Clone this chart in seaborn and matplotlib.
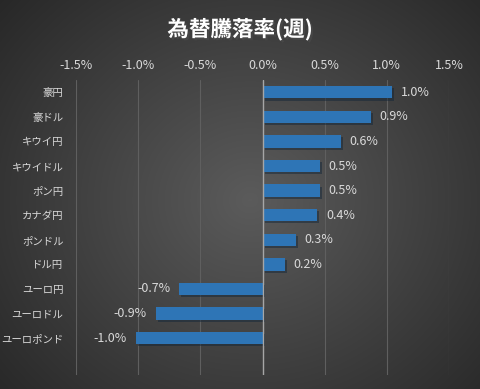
import numpy as np
import pandas as pd
import matplotlib
matplotlib.use('Agg')
import matplotlib.pyplot as plt
import matplotlib.patheffects as pe
from matplotlib.ticker import FuncFormatter
import seaborn as sns

currencies = ['豪円', '豪ドル', 'キウイ円', 'キウイドル', 'ポン円', 'カナダ円',
              'ポンドル', 'ドル円', 'ユーロ円', 'ユーロドル', 'ユーロポンド']
change = [1.04, 0.87, 0.63, 0.46, 0.46, 0.44, 0.27, 0.18, -0.67, -0.86, -1.02]
x_ticks = [-1.5, -1.0, -0.5, 0.0, 0.5, 1.0, 1.5]

df = pd.DataFrame({'通貨': currencies, '騰落率': change})

sns.set_theme(style="dark")
plt.rcParams['font.family'] = ['Noto Sans CJK JP', 'DejaVu Sans']

fig = plt.figure(figsize=(4.8, 3.89), dpi=100)

# radial gradient background
bg = fig.add_axes([0, 0, 1, 1])
yy, xx = np.mgrid[0:389, 0:480]
r = np.sqrt(((xx - 250) / 330.0) ** 2 + ((yy - 200) / 300.0) ** 2)
shade = np.clip(0.36 - 0.2 * r, 0.14, 0.36)
bg.imshow(shade, cmap='gray', vmin=0, vmax=1, aspect='auto', extent=[0, 1, 0, 1])
bg.axis('off')

ax = fig.add_axes([76 / 480, 1 - 375 / 389, (449 - 76) / 480, (375 - 80) / 389])
ax.patch.set_alpha(0)
sns.barplot(data=df, x='騰落率', y='通貨', orient='h', color='#2E75B6',
            width=0.5, saturation=1, linewidth=0, edgecolor='none', ax=ax)
for p in ax.patches:
    p.set_path_effects([pe.SimplePatchShadow(offset=(1.5, -1.5), alpha=0.45), pe.Normal()])

ax.set_xlim(-1.5, 1.5)
ax.set_ylim(11.5, -0.5)
ax.set_xticks(x_ticks)
ax.xaxis.set_major_formatter(FuncFormatter(lambda v, _: f'{v:.1f}%'))
ax.xaxis.tick_top()
ax.tick_params(axis='x', colors='#d9d9d9', labelsize=9, length=0, pad=6)
ax.tick_params(axis='y', colors='#d9d9d9', labelsize=7.5, length=0, pad=9)
ax.set_xlabel('')
ax.set_ylabel('')
ax.grid(axis='x', color='#5f5f5f', linewidth=0.8)
ax.grid(axis='y', visible=False)
ax.axvline(0, color='#a6a6a6', linewidth=1)
for s in ax.spines.values():
    s.set_visible(False)

for i, v in enumerate(change):
    if v >= 0:
        ax.text(v + 0.07, i, f'{v:.1f}%', va='center', ha='left', color='#d9d9d9', fontsize=9)
    else:
        ax.text(v - 0.07, i, f'{v:.1f}%', va='center', ha='right', color='#d9d9d9', fontsize=9)

fig.text(0.5, 1 - 29 / 389, '為替騰落率(週)', ha='center', va='center', color='white',
         fontsize=15.5, fontweight='bold',
         path_effects=[pe.withSimplePatchShadow(offset=(1.5, -1.5), alpha=0.6)])

fig.savefig('out.png', dpi=100)
